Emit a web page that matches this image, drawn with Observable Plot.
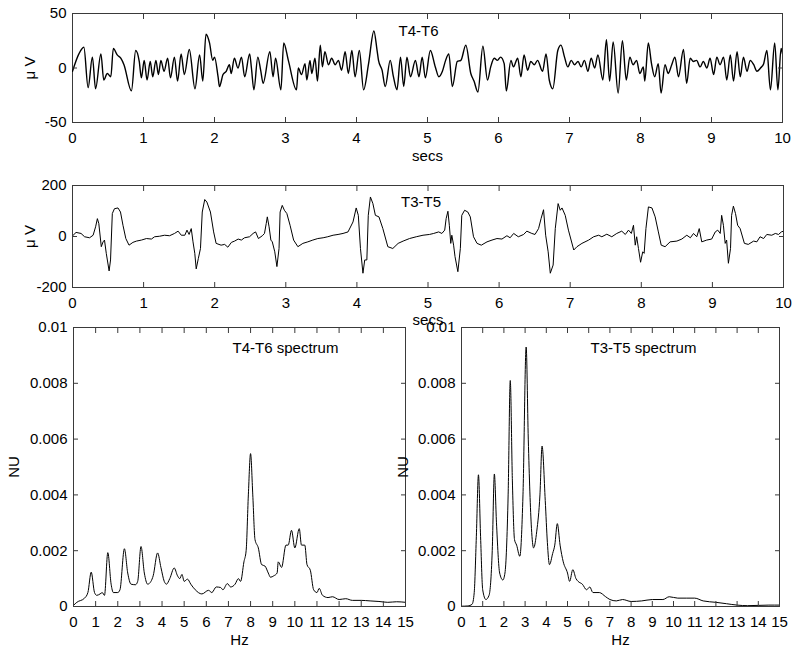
<!DOCTYPE html>
<html><head><meta charset="utf-8">
<script src="https://cdn.jsdelivr.net/npm/d3@7"></script>
<script src="https://cdn.jsdelivr.net/npm/@observablehq/plot@0.6"></script>
<style>
body{margin:0;background:#fff;}
#chart{position:relative;width:800px;height:654px;}
.panel{position:absolute;}
.panel svg{overflow:visible;max-width:none;}
</style></head><body><div id="chart"></div>
<script>
// ---- T4-T6 EEG trace (secs, µV) ----
const t1 = [0,0.09,0.16,0.22,0.28,0.325,0.40,0.44,0.49,0.54,0.575,0.63,0.68,0.725,0.83,0.89,0.94,0.97,1.01,1.05,1.095,1.13,1.175,1.21,1.245,1.29,1.34,1.38,1.435,1.48,1.53,1.575,1.645,1.725,1.79,1.835,1.88,1.93,1.975,2.00,2.05,2.07,2.12,2.165,2.21,2.235,2.28,2.33,2.38,2.425,2.495,2.52,2.555,2.61,2.65,2.685,2.78,2.825,2.86,2.935,2.975,3.04,3.155,3.18,3.225,3.275,3.30,3.345,3.37,3.415,3.45,3.49,3.52,3.555,3.605,3.65,3.70,3.745,3.79,3.84,3.885,3.935,3.98,4.04,4.10,4.17,4.245,4.29,4.31,4.36,4.405,4.475,4.52,4.57,4.62,4.665,4.71,4.76,4.83,4.88,4.925,4.97,5.04,
  5.11,5.16,5.21,5.255,5.30,5.35,5.42,5.47,5.54,5.61,5.655,5.71,5.78,5.845,5.89,5.94,5.985,6.03,6.08,6.11,6.175,6.21,6.27,6.315,6.36,6.41,6.455,6.505,6.55,6.62,6.67,6.715,6.765,6.835,6.88,6.93,6.975,7.025,7.07,7.12,7.165,7.21,7.26,7.305,7.355,7.40,7.47,7.52,7.565,7.615,7.685,7.745,7.80,7.85,7.895,7.945,7.99,8.04,8.06,8.11,8.155,8.20,8.25,8.29,8.345,8.39,8.44,8.485,8.535,8.605,8.65,8.70,8.745,8.79,8.84,8.885,8.935,8.98,9.03,9.075,9.12,9.17,9.215,9.265,9.31,9.36,9.405,9.45,9.50,9.545,9.595,9.64,9.69,9.735,9.78,9.83,9.89,9.935,9.98,10.0];
const v1 = [-3,13,19,-18,10,-19,13,-11,-5,-8,18,12,9,3,-21,16,6,-9,7,-11,6,-8,7,-6,7,-3,9,-9,10,-12,13,-6,17,-19,12,-12,31,23,7,10,-8,-17,-6,-3,3,-5,9,0,10,-8,13,0,-20,10,-2,-14,15,-8,9,-20,23,7,-20,0,-6,4,-11,7,-5,9,-12,21,1,15,3,9,3,7,-2,15,-5,16,-8,16,-20,4,34,16,7,-2,-17,7,-8,-20,10,-17,10,-8,7,-8,10,-9,16,
  1,-8,-3,7,13,-17,6,7,21,-5,-12,-22,20,-11,1,9,7,10,4,-21,7,1,9,-8,12,-2,6,3,7,-3,13,-11,-19,16,21,10,1,7,3,6,1,7,-3,9,0,12,-11,26,-12,24,-23,25,-11,10,3,7,-5,1,-12,23,4,-8,4,-23,3,-5,3,10,-8,17,-14,9,6,7,1,6,0,9,-6,10,3,10,-11,12,-12,15,-8,10,-3,7,3,-3,0,4,16,-20,23,-20,18,13];

// ---- T3-T5 EEG trace (secs, µV) ----
const t2 = [0.01,0.05,0.12,0.17,0.24,0.29,0.325,0.35,0.37,0.405,0.43,0.45,0.475,0.515,0.535,0.56,0.59,0.64,0.675,0.71,0.75,0.795,0.85,0.90,0.97,1.04,1.11,1.155,1.225,1.295,1.365,1.435,1.485,1.53,1.58,1.61,1.64,1.67,1.695,1.72,1.74,1.77,1.80,1.825,1.86,1.89,1.94,1.985,2.02,2.09,2.14,2.185,2.235,2.28,2.33,2.375,2.42,2.49,2.54,2.575,2.615,2.67,2.70,2.725,2.74,2.765,2.79,2.81,2.845,2.875,2.905,2.92,2.95,2.98,3.015,3.06,3.11,3.17,3.24,3.31,3.38,3.45,3.525,3.59,3.665,3.735,3.805,3.875,3.945,3.99,4.02,4.05,4.085,4.11,4.14,4.16,4.19,4.225,4.26,4.31,4.365,4.435,4.505,4.58,4.65,4.74,4.835,4.93,5.02,
  5.08,5.15,5.195,5.235,5.255,5.28,5.30,5.32,5.335,5.36,5.38,5.42,5.455,5.475,5.515,5.56,5.595,5.64,5.69,5.75,5.83,5.90,5.97,6.04,6.11,6.155,6.205,6.27,6.345,6.39,6.46,6.505,6.555,6.59,6.625,6.655,6.69,6.72,6.76,6.79,6.83,6.86,6.885,6.93,6.975,7.05,7.095,7.165,7.26,7.33,7.40,7.445,7.515,7.585,7.655,7.725,7.775,7.82,7.86,7.89,7.915,7.935,7.96,7.99,8.02,8.04,8.065,8.10,8.15,8.195,8.24,8.28,8.335,8.405,8.50,8.57,8.64,8.69,8.735,8.78,8.815,8.85,8.92,8.99,9.04,9.075,9.11,9.13,9.155,9.18,9.20,9.225,9.255,9.27,9.295,9.325,9.355,9.39,9.45,9.505,9.58,9.625,9.67,9.72,9.765,9.835,9.885,9.93,9.97,10.0];
const v2 = [5,16,12,-1,-5,5,38,70,51,-40,-21,-14,-66,-135,-92,90,109,112,96,44,-8,-34,-23,-18,-14,-8,-10,-1,1,5,3,12,21,5,5,25,8,31,-21,-66,-127,-86,-47,96,145,135,96,18,-27,-34,-31,-42,-23,-18,-10,-14,-5,-1,12,18,-8,3,12,51,77,38,-14,-21,-60,-118,-47,96,122,103,90,44,-14,-40,-27,-21,-14,-8,-5,-1,5,8,12,18,57,112,83,-47,-144,-92,-92,83,155,129,83,77,31,-40,-47,-27,-18,-8,-1,5,8,
  12,18,12,25,70,99,44,-27,5,-34,-79,-138,-47,83,103,96,77,-1,-27,-34,-21,-14,-8,-10,3,-5,12,-1,8,21,12,8,31,70,105,5,-60,-144,-112,31,129,103,112,83,25,-53,-40,-27,-14,-1,5,-1,9,-1,12,21,8,25,12,44,-34,-1,-47,-101,-60,-66,31,116,112,77,18,-34,-40,-21,-18,-10,5,-5,12,-1,31,-21,-14,-10,18,25,12,83,44,-27,-14,-105,-47,83,119,90,44,31,-27,-31,-18,-21,-1,-8,8,5,12,8,18,21];

// ---- T4-T6 spectrum (Hz, NU) ----
const hz1 = [0,0.15,0.5,0.65,0.8,0.95,1.05,1.2,1.3,1.4,1.55,1.7,1.8,2.0,2.1,2.3,2.45,2.6,2.8,2.9,3.05,3.2,3.35,3.5,3.6,3.8,3.95,4.1,4.2,4.35,4.55,4.7,4.8,4.9,5.0,5.15,5.3,5.5,5.8,6.1,6.25,6.45,6.65,6.75,6.95,7.1,7.3,7.45,7.55,7.7,7.8,7.9,8.0,8.1,8.2,8.35,8.5,8.65,8.8,8.9,9.05,9.2,9.25,9.4,9.6,9.7,9.85,10.0,10.2,10.3,10.45,10.55,10.7,10.85,11.0,11.1,11.25,11.5,11.7,12.0,12.3,12.6,13.0,13.4,13.8,14.2,14.6,15.0];
const nu1 = [0.00004,0.00015,0.0003,0.0005,0.00123,0.0005,0.0004,0.00045,0.0005,0.0004,0.00193,0.0008,0.0005,0.0005,0.0006,0.00207,0.0012,0.0008,0.00078,0.0009,0.00215,0.0012,0.0008,0.0009,0.0011,0.00192,0.0014,0.0009,0.0008,0.001,0.00138,0.0011,0.001,0.00115,0.0009,0.00098,0.0008,0.0006,0.00045,0.00058,0.0005,0.0007,0.00068,0.0006,0.00082,0.0007,0.0008,0.001,0.0009,0.0016,0.002,0.004,0.00548,0.004,0.0024,0.0021,0.0015,0.00145,0.0012,0.00105,0.0011,0.0012,0.0016,0.0014,0.0022,0.0022,0.00273,0.0021,0.00279,0.0022,0.0022,0.0015,0.0013,0.0006,0.0005,0.00065,0.0004,0.00032,0.00035,0.00025,0.00028,0.00022,0.00022,0.0002,0.00018,0.00015,0.00017,0.00015];

// ---- T3-T5 spectrum (Hz, NU) ----
const hz2 = [0,0.3,0.5,0.6,0.7,0.8,0.9,1.0,1.15,1.3,1.45,1.55,1.65,1.8,1.95,2.05,2.2,2.3,2.4,2.5,2.6,2.75,2.9,3.05,3.15,3.3,3.4,3.55,3.7,3.8,3.95,4.05,4.15,4.3,4.4,4.52,4.65,4.8,5.0,5.1,5.25,5.4,5.5,5.7,5.9,6.05,6.2,6.5,6.8,7.0,7.3,7.6,8.0,8.5,9.0,9.5,9.8,10.2,10.6,11.0,11.4,12.0,12.5,13.0,13.5,14.0,14.5,15.0];
const nu2 = [0.00001,0.00002,0.00008,0.0005,0.0025,0.00472,0.0025,0.0006,0.00025,0.0004,0.002,0.00475,0.003,0.0012,0.00095,0.0012,0.004,0.0081,0.0045,0.0024,0.0022,0.0018,0.004,0.0093,0.006,0.0028,0.0021,0.0027,0.004,0.00575,0.0038,0.0023,0.0015,0.0019,0.0022,0.00297,0.0022,0.0016,0.0012,0.0009,0.00132,0.001,0.0009,0.0008,0.0006,0.0007,0.0005,0.0005,0.00035,0.00025,0.0002,0.00025,0.00018,0.0002,0.00025,0.00025,0.00035,0.0003,0.0003,0.0003,0.0002,0.00015,0.0001,0.00005,0.00003,0.00004,0.00005,0.00005];

// ---- ticks & labels ----
const secTicks = [0,1,2,3,4,5,6,7,8,9,10];
const hzTicks = [0,1,2,3,4,5,6,7,8,9,10,11,12,13,14,15];
const uv1Ticks = [-50,0,50];
const uv2Ticks = [-200,0,200];
const nuTicks = [0,0.002,0.004,0.006,0.008,0.01];
const titles = ["T4-T6", "T3-T5", "T4-T6 spectrum", "T3-T5 spectrum"];
const xLabels = ["secs", "secs", "Hz", "Hz"];
const yLabels = ["\u03bc V", "\u03bc V", "NU", "NU"];

const fmt = d => String(d);
const FONT = '"Liberation Sans", Arial, Helvetica, sans-serif';

function panel(o) {
  const marks = [
    Plot.frame({stroke: "#3a3a3a"}),
    Plot.line(o.y, {x: (d, i) => o.x[i], y: d => d, stroke: "#000", strokeWidth: o.sw, curve: o.curve, clip: true}),
    Plot.axisX(o.xTicks, {anchor: "bottom", tickSize: -5, tickPadding: 15, tickFormat: fmt, stroke: "#3a3a3a", fill: "#000",
      label: o.xLabel, labelAnchor: "center", labelOffset: o.xLabelOffset, labelArrow: "none"}),
    Plot.axisX(o.xTicks, {anchor: "top", tickSize: -5, tickFormat: () => "", stroke: "#3a3a3a", label: null}),
    Plot.axisY(o.yTicks, {anchor: "left", tickSize: -5, tickPadding: 11, tickFormat: fmt, stroke: "#3a3a3a", fill: "#000",
      label: o.yLabel, labelAnchor: "center", labelOffset: o.yLabelOffset, labelArrow: "none"}),
    Plot.axisY(o.yTicks, {anchor: "right", tickSize: -5, tickFormat: () => "", stroke: "#3a3a3a", label: null}),
    Plot.text([o.title], {text: d => d, frameAnchor: "top", dx: o.tdx, dy: o.tdy, lineAnchor: "middle", fill: "#000"})
  ];
  const svg = Plot.plot({
    width: o.width, height: o.height,
    marginTop: o.mt, marginBottom: o.mb, marginLeft: o.ml, marginRight: o.mr,
    x: {domain: o.xDomain}, y: {domain: o.yDomain},
    style: {fontFamily: FONT, fontSize: "15px", background: "transparent", overflow: "visible", color: "#000"},
    marks
  });
  const div = document.createElement("div");
  div.className = "panel";
  div.style.left = o.left + "px";
  div.style.top = o.top + "px";
  div.style.width = o.width + "px";
  div.style.height = o.height + "px";
  div.appendChild(svg);
  document.getElementById("chart").appendChild(div);
}

panel({left: 0, top: 0, width: 800, height: 170, mt: 13, mb: 48, ml: 72, mr: 18,
  x: t1, y: v1, sw: 1.4, curve: "monotone-x", xDomain: [0, 10], yDomain: [-50, 50],
  xTicks: secTicks, yTicks: uv1Ticks, xLabel: xLabels[0], yLabel: yLabels[0], xLabelOffset: 38, yLabelOffset: 48,
  title: titles[0], tdx: -9, tdy: 18});

panel({left: 0, top: 170, width: 800, height: 170, mt: 15, mb: 53, ml: 72, mr: 17,
  x: t2, y: v2, sw: 1, curve: "linear", xDomain: [0, 10], yDomain: [-200, 200],
  xTicks: secTicks, yTicks: uv2Ticks, xLabel: xLabels[1], yLabel: yLabels[1], xLabelOffset: 37, yLabelOffset: 48,
  title: titles[1], tdx: -7, tdy: 17});

panel({left: 0, top: 310, width: 420, height: 344, mt: 17, mb: 48, ml: 73, mr: 15,
  x: hz1, y: nu1, sw: 1, curve: "monotone-x", xDomain: [0, 15], yDomain: [0, 0.01],
  xTicks: hzTicks, yTicks: nuTicks, xLabel: xLabels[2], yLabel: yLabels[2], xLabelOffset: 38, yLabelOffset: 65,
  title: titles[2], tdx: 46, tdy: 21});

panel({left: 400, top: 310, width: 400, height: 344, mt: 17, mb: 48, ml: 61, mr: 21,
  x: hz2, y: nu2, sw: 1, curve: "monotone-x", xDomain: [0, 15], yDomain: [0, 0.01],
  xTicks: hzTicks, yTicks: nuTicks, xLabel: xLabels[3], yLabel: yLabels[3], xLabelOffset: 38, yLabelOffset: 64,
  title: titles[3], tdx: 23, tdy: 21});
</script></body></html>
